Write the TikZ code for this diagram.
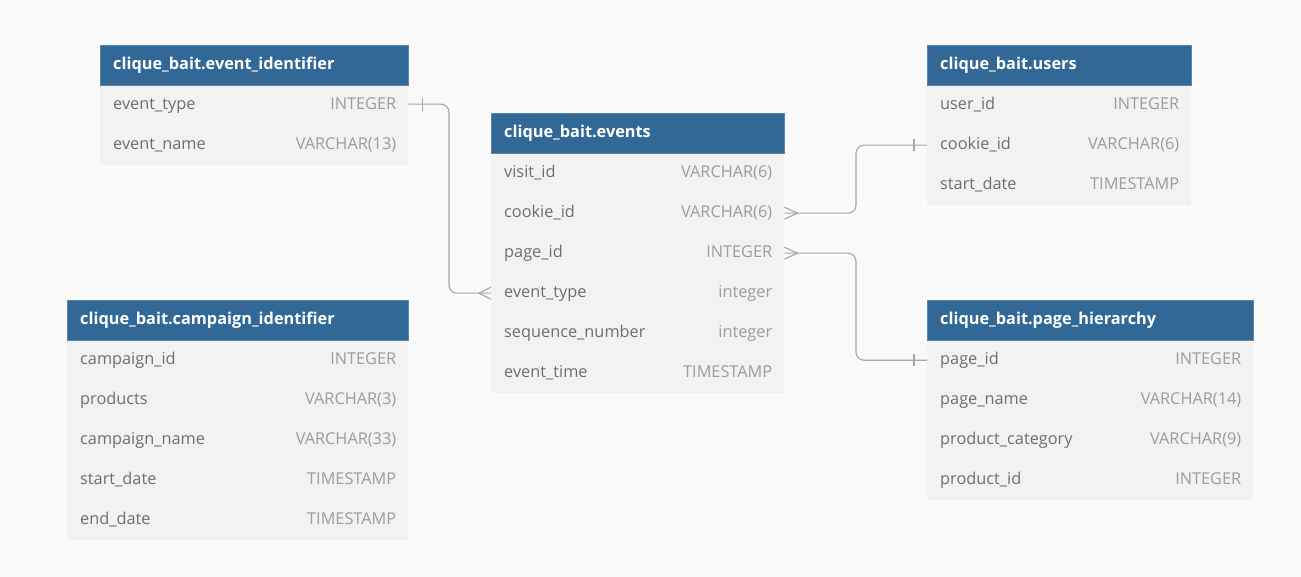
\documentclass[tikz,border=0pt]{standalone}
\usepackage{fontspec}
\setmainfont{Open Sans}
\definecolor{bgc}{HTML}{FAFAFA}
\definecolor{hdrc}{HTML}{316896}
\definecolor{rowc}{HTML}{F2F2F2}
\definecolor{namec}{HTML}{6E6E6E}
\definecolor{typec}{HTML}{9C9C9C}
\definecolor{connc}{HTML}{A3A6AD}
\tikzset{
  hdr/.style={fill=hdrc, draw=hdrc!80!white, line width=0.6pt, minimum height=40pt, inner sep=0pt, anchor=north west},
  hdrtext/.style={text=white, font=\fontsize{16.3}{19}\selectfont\bfseries, anchor=base west, inner sep=0pt},
  rowbox/.style={fill=rowc, draw=none, minimum height=40pt, inner sep=0pt, anchor=north west},
  nametext/.style={text=namec, font=\fontsize{16.3}{19}\selectfont, anchor=base west, inner sep=0pt},
  typetext/.style={text=typec, font=\fontsize{16.3}{19}\selectfont, anchor=base east, inner sep=0pt},
  conn/.style={draw=connc, line width=1.1pt, rounded corners=8pt},
  endmark/.style={draw=connc, line width=1.1pt}
}
% #1 id, #2 x, #3 y, #4 width, #5 title
\newcommand\mktable[5]{%
  \node[hdr, minimum width=#4pt] (#1) at (#2,#3) {};
  \node[hdrtext] (#1-title) at ([xshift=13pt,yshift=-4.5pt]#1.west) {#5};
}
% #1 id, #2 x, #3 y, #4 width, #5 name, #6 type
\newcommand\mkrow[6]{%
  \node[rowbox, minimum width=#4pt] (#1) at (#2,#3) {};
  \node[nametext] (#1-n) at ([xshift=13pt,yshift=-4.5pt]#1.west) {#5};
  \node[typetext] (#1-t) at ([xshift=-12pt,yshift=-4.5pt]#1.east) {#6};
}
\begin{document}
\begin{tikzpicture}[x=1pt,y=-1pt]
\fill[bgc] (0,0) rectangle (1301,577);
\useasboundingbox (0,0) rectangle (1301,577);

% event_identifier
\mkrow{ei1}{100}{85}{308}{event\_type}{INTEGER}
\mkrow{ei2}{100}{125}{308}{event\_name}{VARCHAR(13)}
\mktable{ei}{100}{45}{308}{clique\_bait.event\_identifier}

% events
\mkrow{ev1}{491}{153}{293}{visit\_id}{VARCHAR(6)}
\mkrow{ev2}{491}{193}{293}{cookie\_id}{VARCHAR(6)}
\mkrow{ev3}{491}{233}{293}{page\_id}{INTEGER}
\mkrow{ev4}{491}{273}{293}{event\_type}{integer}
\mkrow{ev5}{491}{313}{293}{sequence\_number}{integer}
\mkrow{ev6}{491}{353}{293}{event\_time}{TIMESTAMP}
\mktable{ev}{491}{113}{293}{clique\_bait.events}

% users
\mkrow{us1}{927}{85}{264}{user\_id}{INTEGER}
\mkrow{us2}{927}{125}{264}{cookie\_id}{VARCHAR(6)}
\mkrow{us3}{927}{165}{264}{start\_date}{TIMESTAMP}
\mktable{us}{927}{45}{264}{clique\_bait.users}

% campaign_identifier
\mkrow{ci1}{67}{340}{341}{campaign\_id}{INTEGER}
\mkrow{ci2}{67}{380}{341}{products}{VARCHAR(3)}
\mkrow{ci3}{67}{420}{341}{campaign\_name}{VARCHAR(33)}
\mkrow{ci4}{67}{460}{341}{start\_date}{TIMESTAMP}
\mkrow{ci5}{67}{500}{341}{end\_date}{TIMESTAMP}
\mktable{ci}{67}{300}{341}{clique\_bait.campaign\_identifier}

% page_hierarchy
\mkrow{ph1}{927}{340}{326}{page\_id}{INTEGER}
\mkrow{ph2}{927}{380}{326}{page\_name}{VARCHAR(14)}
\mkrow{ph3}{927}{420}{326}{product\_category}{VARCHAR(9)}
\mkrow{ph4}{927}{460}{326}{product\_id}{INTEGER}
\mktable{ph}{927}{300}{326}{clique\_bait.page\_hierarchy}

% junction columns
\coordinate (j1) at (449,0);
\coordinate (j2) at (856,0);

% connectors
\draw[conn] ([yshift=1pt]ei1.east) -| (j1 |- ev4.west) -- (ev4.west);
\draw[conn] (ev2.east) -| (j2 |- us2.west) -- (us2.west);
\draw[conn] (ev3.east) -| (j2 |- ph1.west) -- (ph1.west);

% one marks
\draw[endmark] ([xshift=14pt,yshift=-6pt]ei1.east) -- ([xshift=14pt,yshift=7pt]ei1.east);
\draw[endmark] ([xshift=-13pt,yshift=-6pt]us2.west) -- ([xshift=-13pt,yshift=6pt]us2.west);
\draw[endmark] ([xshift=-13pt,yshift=-6pt]ph1.west) -- ([xshift=-13pt,yshift=6pt]ph1.west);

% many marks
\draw[endmark] ([yshift=6pt]ev4.west) -- ([xshift=-12pt]ev4.west) -- ([yshift=-6pt]ev4.west);
\draw[endmark] ([yshift=6pt]ev2.east) -- ([xshift=13pt]ev2.east) -- ([yshift=-6pt]ev2.east);
\draw[endmark] ([yshift=6pt]ev3.east) -- ([xshift=13pt]ev3.east) -- ([yshift=-6pt]ev3.east);
\end{tikzpicture}
\end{document}
